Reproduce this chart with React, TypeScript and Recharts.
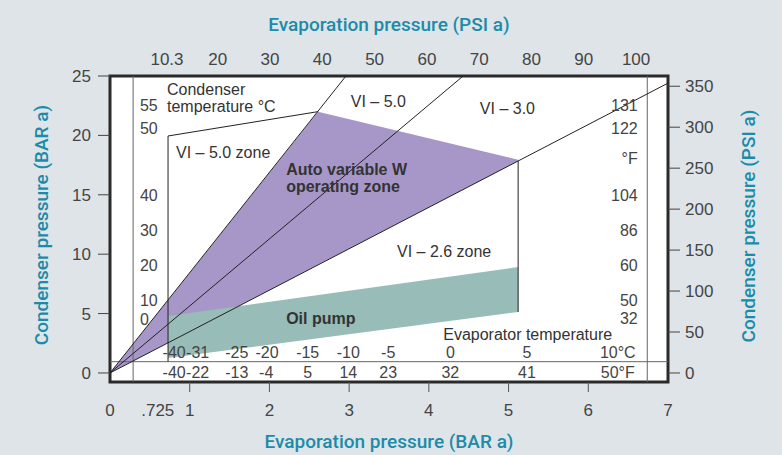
import React from 'react';
import {
  ComposedChart,
  XAxis,
  YAxis,
  CartesianGrid,
  Area,
  Line,
  Scatter,
  ReferenceLine,
  ReferenceArea,
  Label,
} from 'recharts';

const BAR_TO_PSI = 14.5;

// axis ticks
const evapBarTicks = [0, 0.725, 1, 2, 3, 4, 5, 6, 7];
const evapPsiTicks = [10.3, 20, 30, 40, 50, 60, 70, 80, 90, 100];
const condBarTicks = [0, 5, 10, 15, 20, 25];
const condPsiTicks = [0, 50, 100, 150, 200, 250, 300, 350];

// boundary lines: x = evaporation pressure (bar a), y = condenser pressure (bar a)
const vi50Line = [{ x: 0, y: 0 }, { x: 2.96, y: 25 }];
const vi30Line = [{ x: 0, y: 0 }, { x: 4.43, y: 25 }];
const vi26Line = [{ x: 0, y: 0 }, { x: 7, y: 24.4 }];
const vi50ZoneEdge = [{ x: 0.728, y: 0.95 }, { x: 0.728, y: 19.95 }, { x: 2.61, y: 22.0 }];
const vi30ZoneEdge = [{ x: 5.12, y: 17.85 }, { x: 5.12, y: 5.13 }];

// filled zones, r = [low, high]
const autoZone = [
  { x: 0, r: [0, 0] },
  { x: 2.61, r: [9.1, 22.0] },
  { x: 5.12, r: [17.85, 17.95] },
];
const oilPumpZone = [
  { x: 0.728, r: [1.26, 4.8] },
  { x: 5.12, r: [5.13, 8.92] },
];

// condenser temperature scales
const condTempC = [
  { x: 0.375, y: 22.56, t: '55' },
  { x: 0.375, y: 20.62, t: '50' },
  { x: 0.375, y: 14.98, t: '40' },
  { x: 0.375, y: 12.04, t: '30' },
  { x: 0.375, y: 9.09, t: '20' },
  { x: 0.375, y: 6.14, t: '10' },
  { x: 0.375, y: 4.55, t: '0' },
];
const condTempF = [
  { x: 6.62, y: 22.56, t: '131' },
  { x: 6.62, y: 20.62, t: '122' },
  { x: 6.62, y: 18.1, t: '°F' },
  { x: 6.62, y: 14.98, t: '104' },
  { x: 6.62, y: 12.04, t: '86' },
  { x: 6.62, y: 9.09, t: '60' },
  { x: 6.62, y: 6.14, t: '50' },
  { x: 6.62, y: 4.63, t: '32' },
];

// evaporator temperature rows
const evapTempC = [
  { x: 0.805, y: 1.7, t: '-40' },
  { x: 1.1, y: 1.7, t: '-31' },
  { x: 1.59, y: 1.7, t: '-25' },
  { x: 1.97, y: 1.7, t: '-20' },
  { x: 2.48, y: 1.7, t: '-15' },
  { x: 2.99, y: 1.7, t: '-10' },
  { x: 3.49, y: 1.7, t: '-5' },
  { x: 4.27, y: 1.7, t: '0' },
  { x: 5.23, y: 1.7, t: '5' },
  { x: 6.37, y: 1.7, t: '10°C' },
];
const evapTempF = [
  { x: 0.805, y: 0.02, t: '-40' },
  { x: 1.1, y: 0.02, t: '-22' },
  { x: 1.59, y: 0.02, t: '-13' },
  { x: 1.96, y: 0.02, t: '-4' },
  { x: 2.48, y: 0.02, t: '5' },
  { x: 2.99, y: 0.02, t: '14' },
  { x: 3.49, y: 0.02, t: '23' },
  { x: 4.27, y: 0.02, t: '32' },
  { x: 5.23, y: 0.02, t: '41' },
  { x: 6.37, y: 0.02, t: '50°F' },
];

// zone names
const zoneNames = [
  { x: 0.715, y: 23.84, t: 'Condenser' },
  { x: 0.715, y: 22.47, t: 'temperature °C' },
  { x: 0.828, y: 18.6, t: 'VI – 5.0 zone' },
  { x: 3.02, y: 22.9, t: 'VI – 5.0' },
  { x: 4.64, y: 22.3, t: 'VI – 3.0' },
  { x: 3.6, y: 10.27, t: 'VI – 2.6 zone' },
  { x: 4.18, y: 3.28, t: 'Evaporator temperature' },
];
const boldNames = [
  { x: 2.21, y: 17.17, t: 'Auto variable W' },
  { x: 2.21, y: 15.74, t: 'operating zone' },
  { x: 2.21, y: 4.63, t: 'Oil pump' },
];

// anchors the top PSI axis to the chart
const psiAnchor = evapPsiTicks.map((v) => ({ x: v, y: 0 }));

const FONT = '"Liberation Sans", Arial, sans-serif';
const TITLE_FONT = 'Roboto, "Liberation Sans", sans-serif';
const TITLE = '#1a8ca9';
const INK = '#444';

const textShape =
  (anchor: 'start' | 'middle' | 'end', weight: number, color: string, size = 16) =>
  (props: any) => (
    <text
      x={props.cx}
      y={props.cy}
      dy="0.35em"
      textAnchor={anchor}
      fontFamily={FONT}
      fontSize={size}
      fontWeight={weight}
      fill={color}
    >
      {props.payload.t}
    </text>
  );

const BottomTick = (props: any) => {
  const { x, y, payload } = props;
  const v = payload.value;
  const mark = v >= 1 && v <= 6;
  const shift = v === 0.725 ? -10 : 0;
  return (
    <g>
      {mark && <line x1={x} x2={x} y1={y} y2={y + 10} stroke="#555" strokeWidth={1} />}
      <text x={x + shift} y={y + 28} dy="0.35em" textAnchor="middle" fontFamily={FONT} fontSize={17} fill={INK}>
        {v === 0.725 ? '.725' : v}
      </text>
    </g>
  );
};

const tickStyle = { fontFamily: FONT, fontSize: 17, fill: INK };

const titleText = (x: number, y: number, text: string, rotate = false) => (
  <text
    x={x}
    y={y}
    dy="0.35em"
    transform={rotate ? `rotate(-90 ${x} ${y})` : undefined}
    textAnchor="middle"
    fontFamily={TITLE_FONT}
    fontSize={19}
    fontWeight={500}
    fill={TITLE}
  >
    {text}
  </text>
);

const App = () => {
  return (
    <div style={{ position: 'absolute', left: 0, top: 0, width: 782, height: 455, background: '#dfe4e8' }}>
      <ComposedChart width={782} height={455} margin={{ top: 36, right: 44, bottom: 23, left: 40 }}>
        <CartesianGrid horizontal={false} vertical={false} fill="#ffffff" xAxisId="bar" yAxisId="bar" />
        <XAxis
          xAxisId="bar"
          dataKey="x"
          type="number"
          domain={[0, 7]}
          ticks={evapBarTicks}
          interval={0}
          height={50}
          axisLine={false}
          tickLine={false}
          tickSize={0}
          tickMargin={0}
          tick={<BottomTick />}
          allowDataOverflow
        >
          <Label
            content={(p: any) =>
              titleText(p.viewBox.x + p.viewBox.width / 2, p.viewBox.y + 59, 'Evaporation pressure (BAR a)')
            }
          />
        </XAxis>
        <XAxis
          xAxisId="psi"
          dataKey="x"
          orientation="top"
          type="number"
          domain={[-0.6, 106.1]}
          ticks={evapPsiTicks}
          interval={0}
          height={40}
          axisLine={false}
          tickLine={false}
          tickSize={0}
          tickMargin={11}
          tick={tickStyle}
          allowDataOverflow
        >
          <Label
            content={(p: any) =>
              titleText(p.viewBox.x + p.viewBox.width / 2, p.viewBox.y - 12, 'Evaporation pressure (PSI a)')
            }
          />
        </XAxis>
        <YAxis
          yAxisId="bar"
          dataKey="y"
          type="number"
          domain={[-0.76, 25]}
          ticks={condBarTicks}
          interval={0}
          width={70}
          axisLine={false}
          tickSize={12}
          tickMargin={7}
          tickLine={{ stroke: '#444' }}
          tick={tickStyle}
          allowDataOverflow
        >
          <Label
            content={(p: any) =>
              titleText(p.viewBox.x + 1, p.viewBox.y + p.viewBox.height / 2 - 4, 'Condenser pressure (BAR a)', true)
            }
          />
        </YAxis>
        <YAxis
          yAxisId="psi"
          orientation="right"
          type="number"
          domain={[-0.76 * BAR_TO_PSI, 25 * BAR_TO_PSI]}
          ticks={condPsiTicks}
          interval={0}
          width={70}
          axisLine={false}
          tickSize={12}
          tickMargin={5}
          tickLine={{ stroke: '#444' }}
          tick={tickStyle}
          allowDataOverflow
        >
          <Label
            content={(p: any) =>
              titleText(p.viewBox.x + 80, p.viewBox.y + p.viewBox.height / 2 - 3, 'Condenser pressure (PSI a)', true)
            }
          />
        </YAxis>

        <ReferenceLine xAxisId="bar" yAxisId="bar" x={0.29} stroke="#666" strokeWidth={1} />
        <ReferenceLine xAxisId="bar" yAxisId="bar" x={6.74} stroke="#666" strokeWidth={1} />
        <ReferenceLine xAxisId="bar" yAxisId="bar" y={0.95} stroke="#666" strokeWidth={1} />

        <Area
          xAxisId="bar"
          yAxisId="bar"
          data={autoZone}
          dataKey="r"
          type="linear"
          fill="#a797c8"
          fillOpacity={1}
          stroke="none"
          isAnimationActive={false}
        />
        <Area
          xAxisId="bar"
          yAxisId="bar"
          data={oilPumpZone}
          dataKey="r"
          type="linear"
          fill="#98bcb7"
          fillOpacity={1}
          stroke="none"
          isAnimationActive={false}
        />

        {[vi50Line, vi30Line, vi26Line, vi50ZoneEdge, vi30ZoneEdge].map((d, i) => (
          <Line
            key={i}
            xAxisId="bar"
            yAxisId="bar"
            data={d}
            dataKey="y"
            type="linear"
            stroke="#222"
            strokeWidth={1}
            dot={false}
            activeDot={false}
            isAnimationActive={false}
          />
        ))}

        <Scatter xAxisId="psi" yAxisId="bar" data={psiAnchor} dataKey="y" shape={() => null} isAnimationActive={false} />

        <Scatter xAxisId="bar" yAxisId="bar" data={condTempC} dataKey="y" shape={textShape('start', 400, INK)} isAnimationActive={false} />
        <Scatter xAxisId="bar" yAxisId="bar" data={condTempF} dataKey="y" shape={textShape('end', 400, INK)} isAnimationActive={false} />
        <Scatter xAxisId="bar" yAxisId="bar" data={evapTempC} dataKey="y" shape={textShape('middle', 400, INK)} isAnimationActive={false} />
        <Scatter xAxisId="bar" yAxisId="bar" data={evapTempF} dataKey="y" shape={textShape('middle', 400, INK)} isAnimationActive={false} />
        <Scatter xAxisId="bar" yAxisId="bar" data={zoneNames} dataKey="y" shape={textShape('start', 400, '#333')} isAnimationActive={false} />
        <Scatter xAxisId="bar" yAxisId="bar" data={boldNames} dataKey="y" shape={textShape('start', 700, '#333')} isAnimationActive={false} />

        <ReferenceArea
          xAxisId="bar"
          yAxisId="bar"
          x1={0}
          x2={7}
          y1={-0.76}
          y2={25}
          fill="none"
          fillOpacity={0}
          stroke="#2a2a2a"
          strokeWidth={3}
          ifOverflow="visible"
        />
      </ComposedChart>
    </div>
  );
};

export default App;
